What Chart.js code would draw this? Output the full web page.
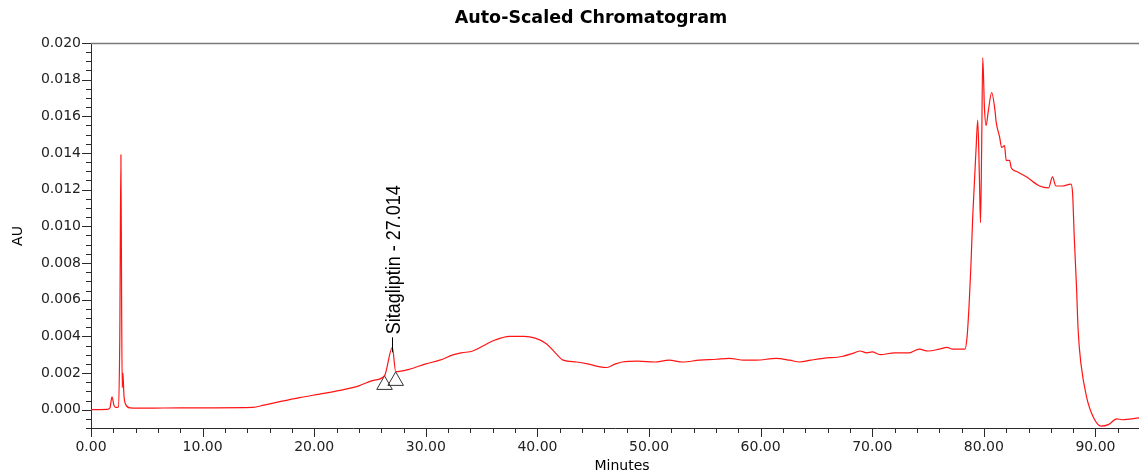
<!DOCTYPE html>
<html>
<head>
<meta charset="utf-8">
<script src="https://cdn.jsdelivr.net/npm/chart.js@4.4.1/dist/chart.umd.min.js"></script>
<style>
  html, body { margin: 0; padding: 0; background: #fff; }
</style>
</head>
<body>
<canvas id="chart" width="1139" height="475"></canvas>
<script>
// retention time (min) and detector response (AU)
const minutes = [
  0, 1.5, 1.7, 1.88, 2.05, 2.2, 2.45, 2.58, 2.68, 2.74, 2.8, 2.86, 2.95, 3.1, 3.5,
  5, 8, 11, 14.5, 15.5, 17, 18.7, 20.5, 22.3, 24, 25.3, 26.3, 27.0, 27.3, 28.5,
  30, 31.25, 32.5, 33.2, 34.2, 35.2, 36.2, 37.5, 38.8, 39.8, 40.8, 41.6, 42.3, 43.5,
  44.5, 45.5, 46.2, 47.0, 47.6, 49, 50.5, 51.8, 53, 54.5, 56, 57.2, 58.5, 59.6,
  61.4, 62.6, 63.5, 64.5, 65.6, 67.3, 68.4, 68.9, 69.5, 70.0, 70.7, 72, 73.3, 74.2,
  75.0, 76.0, 76.7, 77.2, 78.3, 78.5, 78.7, 78.85, 79.0, 79.3, 79.45, 79.6, 79.7,
  79.8, 79.9, 80.05, 80.2, 80.4, 80.7, 81.0, 81.1, 81.4, 81.6, 81.85, 82.0, 82.3,
  82.45, 82.9, 83.8, 85.0, 85.8, 86.15, 86.45, 87.0, 87.8, 87.95, 88.1, 88.3, 88.45,
  88.7, 89.2, 89.8, 90.5, 91.2, 91.9, 92.4, 93.9
];
const absorbance = [
  0, 0.00002, 0.0001, 0.0007, 0.00025, 0.00012, 0.00015, 0.004, 0.0139, 0.0062, 0.0012, 0.0020, 0.0008, 0.0003, 0.0001,
  0.00008, 0.0001, 0.0001, 0.00012, 0.00025, 0.00045, 0.00066, 0.00085, 0.00105, 0.0013, 0.0016, 0.00185, 0.0034, 0.00207, 0.0022,
  0.0025, 0.0027, 0.0030, 0.0031, 0.0032, 0.0035, 0.0038, 0.0040, 0.0040, 0.0039, 0.0036, 0.0031, 0.0027, 0.0026,
  0.0025, 0.00235, 0.0023, 0.0025, 0.0026, 0.00265, 0.0026, 0.0027, 0.0026, 0.0027, 0.00275, 0.0028, 0.0027, 0.0027,
  0.0028, 0.0027, 0.0026, 0.0027, 0.0028, 0.0029, 0.0031, 0.0032, 0.0031, 0.00315, 0.0030, 0.0031, 0.0031, 0.0033,
  0.0032, 0.0033, 0.0034, 0.0033, 0.0033, 0.0040, 0.0060, 0.0080, 0.0105, 0.0142, 0.0158, 0.0127, 0.0102,
  0.0142, 0.0192, 0.0165, 0.0155, 0.0163, 0.0173, 0.0163, 0.0157, 0.0149, 0.0143, 0.0144, 0.0136, 0.0136,
  0.0132, 0.0130, 0.0127, 0.0122, 0.0121, 0.0127, 0.0122, 0.0122, 0.0123, 0.0118, 0.0094, 0.0067, 0.0043,
  0.0025, 0.0007, -0.0004, -0.0009, -0.0008, -0.0005, -0.00055, -0.00045
];

// integration start/end markers for the named peak
const markerMinutes = [26.3, 27.3];
const markerAU = [0.00135, 0.00157];
const peakName = 'Sitagliptin';
const peakTime = 27.014;
const peakApexAU = 0.0034;

const xTickLabels = ['0.00', '10.00', '20.00', '30.00', '40.00', '50.00', '60.00', '70.00', '80.00', '90.00'];
const yTickLabels = ['0.000', '0.002', '0.004', '0.006', '0.008', '0.010', '0.012', '0.014', '0.016', '0.018', '0.020'];

const X_MIN = 0, X_MAX = 93.9, Y_MIN = -0.001, Y_MAX = 0.020;
const X_MINOR = 2, Y_MINOR = 0.0005;
const AXIS_COLOR = '#2a2a2a';
const TICK_FONT = { family: 'DejaVu Sans', size: 14 };

const traceData = minutes.map((t, i) => ({ x: t, y: absorbance[i] }));
const markerData = markerMinutes.map((t, i) => ({ x: t, y: markerAU[i] }));

// draws the outward tick marks, top frame line, titles and the peak label
const chromDecor = {
  id: 'chromDecor',
  afterDraw(chart) {
    const { ctx, chartArea, scales: { x, y } } = chart;
    ctx.save();
    ctx.strokeStyle = AXIS_COLOR;
    ctx.lineWidth = 1;

    ctx.beginPath();
    for (let v = Y_MIN; v <= Y_MAX + 1e-9; v += Y_MINOR) {
      const py = Math.round(y.getPixelForValue(v)) + 0.5;
      const major = Math.abs(v / 0.002 - Math.round(v / 0.002)) < 1e-6;
      ctx.moveTo(chartArea.left - (major ? 9 : 5), py);
      ctx.lineTo(chartArea.left, py);
    }
    for (let v = X_MIN; v <= X_MAX; v += X_MINOR) {
      const px = Math.round(x.getPixelForValue(v)) + 0.5;
      const major = v % 10 === 0;
      ctx.moveTo(px, chartArea.bottom);
      ctx.lineTo(px, chartArea.bottom + (major ? 9 : 5));
    }
    ctx.stroke();

    // top frame
    ctx.strokeStyle = '#7a7a7a';
    ctx.lineWidth = 1.5;
    ctx.beginPath();
    ctx.moveTo(chartArea.left, chartArea.top + 0.5);
    ctx.lineTo(chartArea.right, chartArea.top + 0.5);
    ctx.stroke();

    // titles
    ctx.fillStyle = '#000';
    ctx.textAlign = 'center';
    ctx.textBaseline = 'middle';
    ctx.font = 'bold 17.5px "DejaVu Sans"';
    ctx.fillText('Auto-Scaled Chromatogram', 591, 18);
    ctx.font = '14px "DejaVu Sans"';
    ctx.fillText('Minutes', 622, 466);
    ctx.save();
    ctx.translate(18, 236);
    ctx.rotate(-Math.PI / 2);
    ctx.fillText('AU', 0, 0);
    ctx.restore();

    // peak label
    const px = x.getPixelForValue(peakTime);
    const pyApex = y.getPixelForValue(peakApexAU);
    ctx.strokeStyle = '#000';
    ctx.lineWidth = 1;
    ctx.beginPath();
    ctx.moveTo(Math.round(px) + 0.5, pyApex + 5);
    ctx.lineTo(Math.round(px) + 0.5, pyApex - 10);
    ctx.stroke();
    ctx.save();
    ctx.translate(px + 8, pyApex - 13);
    ctx.scale(1.15, 1);
    ctx.rotate(-Math.PI / 2);
    ctx.textAlign = 'left';
    ctx.textBaseline = 'alphabetic';
    ctx.font = '18px "Liberation Sans"';
    ctx.fillText(peakName + ' - ' + peakTime.toFixed(3), 0, 0);
    ctx.restore();

    ctx.restore();
  }
};

new Chart(document.getElementById('chart'), {
  type: 'line',
  data: {
    datasets: [
      {
        data: traceData,
        borderColor: 'rgb(255, 20, 20)',
        borderWidth: 1.2,
        pointRadius: 0,
        cubicInterpolationMode: 'monotone',
        fill: false
      },
      {
        data: markerData,
        showLine: false,
        pointStyle: 'triangle',
        pointRadius: 9,
        pointBorderWidth: 1,
        pointBorderColor: '#333',
        pointBackgroundColor: 'rgba(0,0,0,0)'
      }
    ]
  },
  options: {
    responsive: false,
    devicePixelRatio: 1,
    animation: false,
    layout: { autoPadding: false, padding: { top: 43, left: 0, right: 0, bottom: 0 } },
    plugins: {
      legend: { display: false },
      tooltip: { enabled: false },
      title: { display: false }
    },
    scales: {
      x: {
        type: 'linear',
        min: X_MIN,
        max: X_MAX,
        afterFit: s => { s.height = 47; s.paddingRight = 0; s.paddingLeft = 0; },
        afterBuildTicks: s => { s.ticks = xTickLabels.map(l => ({ value: parseFloat(l) })); },
        ticks: {
          callback: v => v.toFixed(2),
          font: TICK_FONT,
          color: '#222',
          padding: 2,
          maxRotation: 0,
          autoSkip: false
        },
        grid: { drawOnChartArea: false, tickLength: 9, color: 'rgba(0,0,0,0)' },
        border: { color: AXIS_COLOR, width: 1 }
      },
      y: {
        type: 'linear',
        min: Y_MIN,
        max: Y_MAX,
        afterFit: s => { s.width = 91; s.paddingTop = 0; s.paddingBottom = 0; },
        afterBuildTicks: s => { s.ticks = yTickLabels.map(l => ({ value: parseFloat(l) })); },
        ticks: {
          callback: v => v.toFixed(3),
          font: TICK_FONT,
          color: '#222',
          padding: 1
        },
        grid: { drawOnChartArea: false, tickLength: 9, color: 'rgba(0,0,0,0)' },
        border: { color: AXIS_COLOR, width: 1 }
      }
    }
  },
  plugins: [chromDecor]
});
</script>
</body>
</html>
